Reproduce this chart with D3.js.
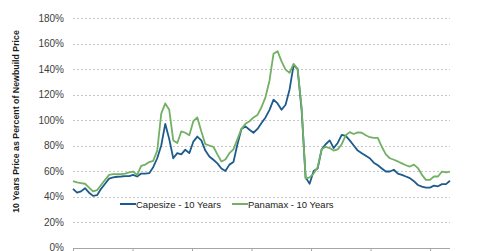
<!DOCTYPE html>
<html>
<head>
<meta charset="utf-8">
<script src="https://cdn.jsdelivr.net/npm/d3@7"></script>
<style>
  body { margin: 0; background: #fff; }
  svg { display: block; font-family: "Liberation Sans", Arial, sans-serif; }
</style>
</head>
<body>
<div id="app"></div>
<script>

// values, % of newbuild price
var capesize = [46, 43, 44, 46.5, 43, 40.5, 41, 46, 50, 54,
    55, 55.5, 55.7, 56, 56, 57, 55.7, 58, 58, 58.3,
    63, 70, 80, 97, 85, 70, 74, 73, 76.7, 74,
    83, 87, 84, 76, 71.4, 68.8, 66, 62, 60, 65,
    67, 81, 93, 95, 92.4, 90, 93, 97.6, 102, 108,
    116, 113, 108, 112, 124, 143, 140, 108, 55, 50,
    60, 62, 77, 81, 84, 78, 82, 88.4, 87.5, 84,
    80, 76, 74, 72, 70, 66.5, 64.5, 62, 59.6, 59.6,
    61, 58, 57, 55.7, 54.4, 52, 49, 47.8, 47, 47,
    48.5, 48, 49.7, 49.7, 52.3];

var panamax = [52, 51, 50.5, 50, 47, 44, 45, 49, 53, 57,
    57.5, 57.5, 57.5, 58, 59, 59.6, 57, 64, 65, 67,
    68, 76, 105, 113, 108, 84, 82, 91, 90, 88,
    99, 102, 91, 81, 80, 79, 73, 67.5, 69, 74,
    77, 85, 93, 97, 99, 102, 104, 110, 118, 131,
    152, 154, 146, 139.5, 137, 144, 140, 110, 54, 55,
    58, 63, 77, 79, 78, 76, 77, 81, 88, 90.5,
    89, 90.3, 90, 88, 86.5, 86, 86, 79, 73, 70,
    68.8, 67.5, 66, 64.5, 63.5, 65, 62.3, 57, 53, 53,
    55.7, 55.7, 59.6, 59, 59.6];

var seriesNames = ["Capesize - 10 Years", "Panamax - 10 Years"];
var seriesColors = ["#1d5b8c", "#72b064"];
var yTicks = [0, 20, 40, 60, 80, 100, 120, 140, 160, 180];
var yearStart = 2000, yearEnd = 2012.67;
var xTicks = [2000, 2002, 2004, 2006, 2008, 2010, 2012];

var width = 480, height = 251;
var plotLeft = 73, plotRight = 450, plotTop = 18, plotBottom = 247.5;

var svg = d3.select("#app")
    .append("svg")
    .attr("width", width)
    .attr("height", height);

var x = d3.scaleLinear().domain([yearStart, yearEnd]).range([plotLeft, plotRight]);
var y = d3.scaleLinear().domain([0, 180]).range([plotBottom, plotTop]);

function when(d, i) {
    return yearStart + i * (yearEnd - yearStart) / (capesize.length - 1);
}

// gridlines
svg.append("g")
    .selectAll("line")
    .data(yTicks.filter(function (t) { return t > 0; }))
    .enter()
    .append("line")
    .attr("x1", plotLeft)
    .attr("x2", plotRight)
    .attr("y1", function (t) { return Math.round(y(t)) + 0.5; })
    .attr("y2", function (t) { return Math.round(y(t)) + 0.5; })
    .style("stroke", "#c6c6c6")
    .style("stroke-width", 1)
    .style("stroke-dasharray", "2,2");

// y labels
var yAxis = svg.append("g")
    .attr("transform", "translate(" + plotLeft + ",0)")
    .call(d3.axisLeft(y).tickValues(yTicks).tickSize(0).tickPadding(9)
	  .tickFormat(function (t) { return t + "%"; }));
yAxis.select(".domain").remove();
yAxis.selectAll("text")
    .style("font-size", "10px")
    .style("fill", "#404040")
    .style("font-family", "'Liberation Sans', Arial, sans-serif");

// x axis, no labels
var xAxis = svg.append("g")
    .attr("transform", "translate(0," + (Math.round(plotBottom) + 0.5) + ")")
    .call(d3.axisBottom(x).tickValues(xTicks).tickSize(5).tickFormat(""));
xAxis.select(".domain")
    .attr("d", "M" + plotLeft + ",0H" + plotRight)
    .style("stroke", "#a6a6a6");
xAxis.selectAll(".tick line").style("stroke", "#a6a6a6");

// lines
var line = d3.line()
    .x(function (d, i) { return x(when(d, i)); })
    .y(function (d) { return y(d); });

[capesize, panamax].forEach(function (values, k) {
    svg.append("path")
	.datum(values)
	.attr("d", line)
	.style("fill", "none")
	.style("stroke", seriesColors[k])
	.style("stroke-width", 1.8)
	.style("stroke-linejoin", "round");
});

// legend
var legendX = [120, 232];
var legend = svg.selectAll(".legend")
    .data(seriesNames)
    .enter()
    .append("g")
    .attr("class", "legend")
    .attr("transform", function (d, i) { return "translate(" + legendX[i] + ",204)"; });

legend.append("line")
    .attr("x1", 0)
    .attr("x2", 16)
    .style("stroke", function (d, i) { return seriesColors[i]; })
    .style("stroke-width", 2);

legend.append("text")
    .attr("x", 16)
    .attr("y", 3.5)
    .style("font-size", "9.5px")
    .style("fill", "#1a1a1a")
    .text(function (d) { return d; });

// y title
svg.append("text")
    .attr("transform", "translate(19,121.5) rotate(-90)")
    .attr("text-anchor", "middle")
    .style("font-size", "8.8px")
    .style("font-weight", "bold")
    .style("fill", "#1a1a1a")
    .text("10 Years Price as Percent of Newbuild Price");

</script>
</body>
</html>
